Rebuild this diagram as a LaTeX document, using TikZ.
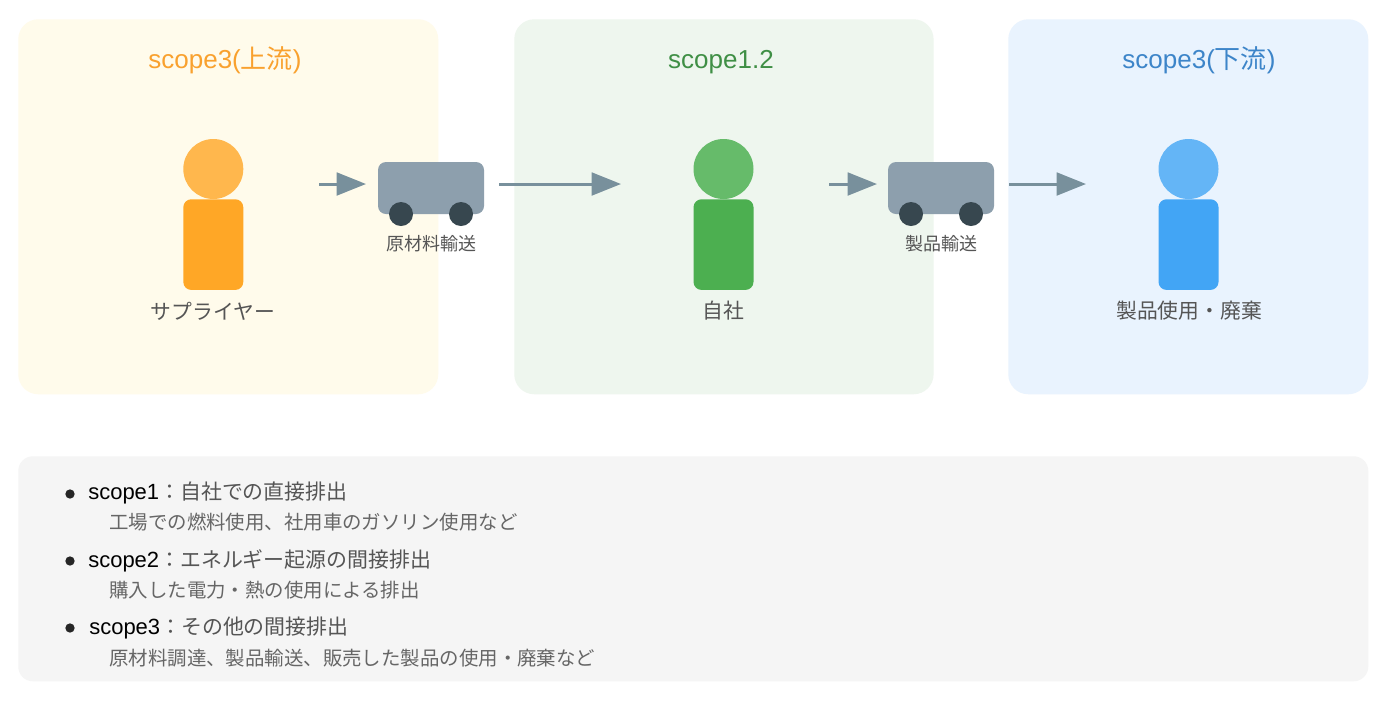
\documentclass[tikz,border=0pt]{standalone}
\usepackage{fontspec}
\setmainfont{Liberation Sans}
\newfontfamily\jp{Noto Sans CJK JP}
\usetikzlibrary{arrows.meta}
\definecolor{panelY}{HTML}{FFFBEB}
\definecolor{panelG}{HTML}{EEF6EE}
\definecolor{panelB}{HTML}{E9F3FE}
\definecolor{panelK}{HTML}{F5F5F5}
\definecolor{arrowC}{HTML}{78909C}
\definecolor{truckC}{HTML}{8D9FAD}
\definecolor{wheelC}{HTML}{37474F}
\definecolor{headY}{HTML}{FFB74D}\definecolor{bodyY}{HTML}{FFA726}
\definecolor{headG}{HTML}{66BB6A}\definecolor{bodyG}{HTML}{4CAF50}
\definecolor{headB}{HTML}{64B5F6}\definecolor{bodyB}{HTML}{42A5F5}
\definecolor{titleY}{HTML}{F9A12E}\definecolor{titleG}{HTML}{3F8F45}\definecolor{titleB}{HTML}{3D85C9}
\definecolor{labelC}{HTML}{555555}\definecolor{subC}{HTML}{666666}
\tikzset{
 x=0.75pt,y=-0.75pt,
 panel/.style={draw=none,rounded corners=15pt,minimum height=281.25pt,anchor=north west,inner sep=0pt},
 title/.style={font=\fontsize{19.5}{24}\selectfont,inner sep=0pt,anchor=base},
 head/.style={circle,minimum size=45pt,inner sep=0pt},
 body/.style={rounded corners=6pt,minimum width=45pt,minimum height=68pt,inner sep=0pt,anchor=north},
 who/.style={font=\jp\fontsize{15.6}{19}\selectfont,text=labelC,inner sep=0pt},
 truck/.style={fill=truckC,rounded corners=6pt,minimum width=79.5pt,minimum height=39pt,inner sep=0pt},
 wheel/.style={circle,fill=wheelC,minimum size=18pt,inner sep=0pt},
 cargo/.style={font=\jp\fontsize{13.5}{16}\selectfont,text=labelC,inner sep=0pt},
 flow/.style={draw=arrowC,line width=2.25pt,-{Triangle[length=22pt,width=17pt]}},
 bul/.style={circle,fill=black!85,minimum size=7pt,inner sep=0pt},
 item/.style={anchor=base west,inner sep=0pt,font=\fontsize{16.5}{20}\selectfont,text=black},
 note/.style={anchor=west,inner sep=0pt,font=\jp\fontsize{14.58}{18}\selectfont,text=subC},
}
\newcommand{\hd}[1]{{\jp\fontsize{15.7}{20}\selectfont\color{labelC}#1}}
\begin{document}
\begin{tikzpicture}
\useasboundingbox (0,0) rectangle (1399,701);
\fill[white] (0,0) rectangle (1399,701);
% panels
\node[panel,fill=panelY,minimum width=315pt] (p1) at (18,19) {};
\node[panel,fill=panelG,minimum width=314.5pt] (p2) at (514,19) {};
\node[panel,fill=panelB,minimum width=270pt] (p3) at (1008,19) {};
\node[panel,fill=panelK,minimum width=1012.5pt,minimum height=168.75pt,rounded corners=11pt] (p4) at (18,456) {};
% titles
\node[title,text=titleY] (t1) at (225,68) {scope3({\jp 上流})};
\node[title,text=titleG] (t2) at (721,68) {scope1.2};
\node[title,text=titleB] (t3) at (1199,68) {scope3({\jp 下流})};
% persons
\node[head,fill=headY] (h1) at (213.3,169) {};
\node[body,fill=bodyY] (b1) at (213.3,199) {};
\node[who] (w1) at (213,311) {サプライヤー};
\node[head,fill=headG] (h2) at (723.5,169) {};
\node[body,fill=bodyG] (b2) at (723.5,199) {};
\node[who] (w2) at (723.5,311) {自社};
\node[head,fill=headB] (h3) at (1188.5,169) {};
\node[body,fill=bodyB] (b3) at (1188.5,199) {};
\node[who] (w3) at (1189,311) {製品使用・廃棄};
% trucks
\node[truck] (c1) at (431,188) {};
\node[wheel] (c1a) at (401,214) {};
\node[wheel] (c1b) at (461,214) {};
\node[cargo] (l1) at (431,244) {原材料輸送};
\node[truck] (c2) at (941,188) {};
\node[wheel] (c2a) at (911,214) {};
\node[wheel] (c2b) at (971,214) {};
\node[cargo] (l2) at (941,244) {製品輸送};
% arrows
\coordinate (a1s) at (319,184); \coordinate (a1e) at (366,184);
\coordinate (a2s) at (499,184); \coordinate (a2e) at (621,184);
\coordinate (a3s) at (829,184); \coordinate (a3e) at (877,184);
\coordinate (a4s) at (1009,184); \coordinate (a4e) at (1086,184);
\draw[flow] (a1s) -- (a1e);
\draw[flow] (a2s) -- (a2e);
\draw[flow] (a3s) -- (a3e);
\draw[flow] (a4s) -- (a4e);
% legend
\node[bul] (d1) at (70,494) {};
\node[item] (i1) at (88,499) {scope1\hd{：自社での直接排出}};
\node[note] (n1) at (109,522) {工場での燃料使用、社用車のガソリン使用など};
\node[bul] (d2) at (70,561) {};
\node[item] (i2) at (88,567) {scope2\hd{：エネルギー起源の間接排出}};
\node[note] (n2) at (109,590) {購入した電力・熱の使用による排出};
\node[bul] (d3) at (70,628) {};
\node[item] (i3) at (89,634) {scope3\hd{：その他の間接排出}};
\node[note] (n3) at (109,658) {原材料調達、製品輸送、販売した製品の使用・廃棄など};
\end{tikzpicture}
\end{document}
